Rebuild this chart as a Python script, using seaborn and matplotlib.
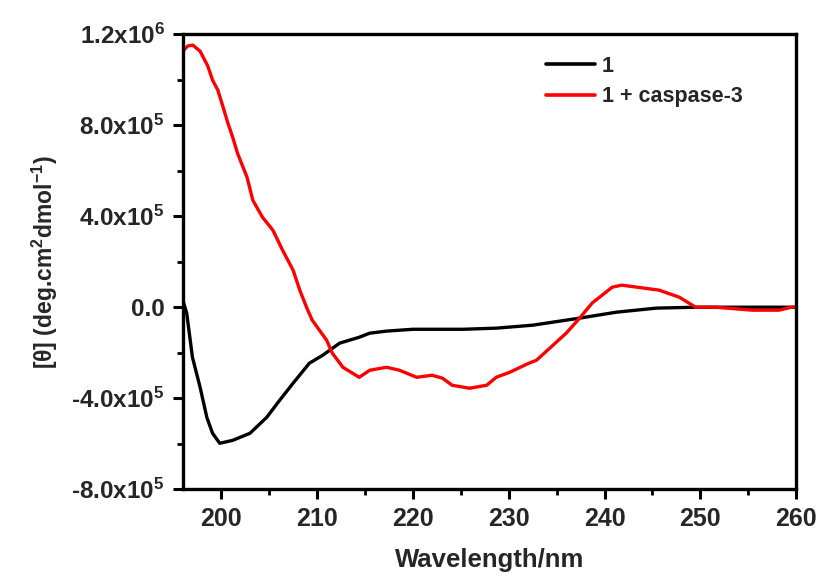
import numpy as np
import pandas as pd
import matplotlib
matplotlib.use("Agg")
import matplotlib.pyplot as plt
import seaborn as sns
from matplotlib.ticker import MultipleLocator, FixedLocator

# Data (y in units of 1e5 deg.cm2/dmol)
wl_1 = [196.0, 196.4, 197.0, 197.8, 198.5, 199.1, 199.85, 201.2, 203.0, 204.75, 206.1,
        207.5, 209.2, 210.6, 212.35, 214.4, 215.5, 217.25, 220.0, 225.2, 228.7, 232.5,
        237.4, 241.2, 245.4, 249.5, 258.5, 260.0]
theta_1 = [0.31, -0.26, -2.20, -3.52, -4.84, -5.54, -5.98, -5.85, -5.54, -4.84, -4.09,
           -3.34, -2.46, -2.11, -1.58, -1.32, -1.14, -1.05, -0.97, -0.97, -0.92, -0.79,
           -0.48, -0.22, -0.04, 0.0, 0.0, 0.0]

wl_2 = [196.1, 196.5, 197.04, 197.8, 198.6, 199.1, 199.65, 200.2, 200.7, 201.2, 201.7,
        202.7, 203.3, 204.3, 205.4, 206.4, 207.5,
        208.2, 208.9, 209.5, 211.0, 211.6, 212.7, 214.4, 215.5, 217.25, 218.6, 220.4,
        222.0, 223.1, 224.1, 225.9, 227.7, 228.7, 230.1, 232.1, 232.9, 236.0, 237.4,
        238.7, 240.8, 241.8, 245.7, 247.8, 249.5, 251.6, 255.4, 258.2, 259.5, 260.0]
theta_2 = [11.30, 11.48, 11.52, 11.25, 10.6, 9.98, 9.54, 8.79, 8.09, 7.47, 6.77,
           5.71, 4.70, 3.96, 3.38, 2.51, 1.63,
           0.75, 0.0, -0.57, -1.45, -2.02, -2.64, -3.08, -2.77, -2.64, -2.77, -3.08,
           -2.99, -3.12, -3.43, -3.56, -3.43, -3.08, -2.86, -2.46, -2.33, -1.14, -0.48,
           0.18, 0.88, 0.97, 0.75, 0.44, 0.0, 0.0, -0.13, -0.13, 0.0, 0.0]

labels = ["1", "1 + caspase-3"]
colors = ["#000000", "#ff0000"]

y_ticks = [-8e5, -4e5, 0, 4e5, 8e5, 1.2e6]
y_tick_labels = ["-8.0x10$^{5}$", "-4.0x10$^{5}$", "0.0", "4.0x10$^{5}$",
                 "8.0x10$^{5}$", "1.2x10$^{6}$"]
x_ticks = [200, 210, 220, 230, 240, 250, 260]

df = pd.concat([
    pd.DataFrame({"wl": wl_1, "theta": np.array(theta_1) * 1e5, "s": labels[0]}),
    pd.DataFrame({"wl": wl_2, "theta": np.array(theta_2) * 1e5, "s": labels[1]}),
])

sns.set_theme(style="white")
plt.rcParams["font.family"] = ["Liberation Sans", "DejaVu Sans"]
plt.rcParams["font.weight"] = "bold"
plt.rcParams["mathtext.default"] = "regular"

fig = plt.figure(figsize=(8.2, 5.79), dpi=100)
ax = fig.add_axes([0.223, 0.155, 0.748, 0.786])

sns.lineplot(data=df, x="wl", y="theta", hue="s", palette=colors, ax=ax,
             linewidth=2.4, sort=False, estimator=None)

ax.set_xlim(196, 260)
ax.set_ylim(-8e5, 1.2e6)
ax.xaxis.set_major_locator(FixedLocator(x_ticks))
ax.xaxis.set_minor_locator(MultipleLocator(5))
ax.yaxis.set_major_locator(FixedLocator(y_ticks))
ax.yaxis.set_minor_locator(MultipleLocator(2e5))
ax.set_xticklabels([str(t) for t in x_ticks], fontsize=18, fontweight="bold")
ax.set_yticklabels(y_tick_labels, fontsize=17.5, fontweight="bold")

ax.tick_params(which="major", direction="out", length=7, width=2.2, color="black",
               bottom=True, left=True, top=False, right=False, pad=6)
ax.tick_params(which="minor", direction="out", length=4, width=2.0, color="black",
               bottom=True, left=True, top=False, right=False)
for sp in ax.spines.values():
    sp.set_visible(True)
    sp.set_color("black")
    sp.set_linewidth(2.4)

ax.set_xlabel("Wavelength/nm", fontsize=18.5, fontweight="bold", labelpad=12)
ax.set_ylabel("[θ] (deg.cm$^{2}$dmol$^{-1}$)", fontsize=16.5, fontweight="bold", labelpad=8)

leg = ax.legend(loc="upper left", bbox_to_anchor=(0.56, 0.995), frameon=False,
                handlelength=2.3, handletextpad=0.3, labelspacing=0.45,
                prop={"weight": "bold", "size": 15.5})
for line in leg.get_lines():
    line.set_linewidth(2.6)

fig.savefig("out.png", dpi=100)
